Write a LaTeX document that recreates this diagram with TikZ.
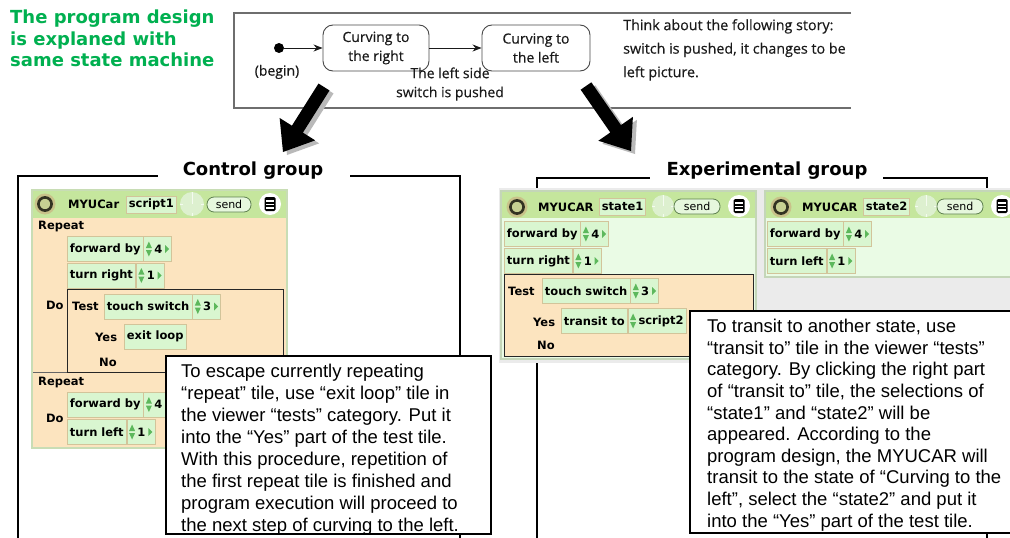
\documentclass[tikz,border=0pt]{standalone}
\usepackage{fontspec}
\usetikzlibrary{calc,arrows.meta}
\newfontfamily\dejavu{DejaVu Sans}
\newfontfamily\osans{Open Sans}[FakeBold=0.35]
\newfontfamily\arialf{Liberation Sans}
\definecolor{titlegreen}{HTML}{00B050}
\definecolor{hdrgreen}{HTML}{C5E69D}
\definecolor{peach}{HTML}{FCE4BF}
\definecolor{winborder}{HTML}{C8DDB5}
\definecolor{winbordertwo}{HTML}{C4D6B8}
\definecolor{tilefill}{HTML}{D9F6D0}
\definecolor{tileborder}{HTML}{D2C49A}
\definecolor{lightbody}{HTML}{EAFBE5}
\definecolor{panelgray}{HTML}{EBEBEB}
\definecolor{arrowgreen}{HTML}{5DB85C}
\definecolor{clockfill}{HTML}{DDF0CF}
\definecolor{clockline}{HTML}{F4FBEF}
\definecolor{olivehalo}{HTML}{C9C28A}
\definecolor{olivedark}{HTML}{333322}
\definecolor{smgray}{HTML}{6E6E6E}
\definecolor{smtext}{HTML}{1A1A1A}
\definecolor{pillfill}{HTML}{E6F7DD}
\definecolor{pilldark}{HTML}{5E8050}
\newcommand\tilefont{\dejavu\bfseries\fontsize{11.5}{13}\selectfont}
\newcommand\updownarr[1]{%
  \fill[arrowgreen] ($(#1.west)+(2.5,-1)$) -- ++(6,0) -- ++(-3,-6.5) -- cycle;
  \fill[arrowgreen] ($(#1.west)+(2.5,1)$) -- ++(6,0) -- ++(-3,6.5) -- cycle;}
\newcommand\numtile[3]{%
  \node[tile] (#1) at (#2) {\hspace*{8pt}#3\hspace*{7pt}};
  \updownarr{#1}
  \fill[arrowgreen] ($(#1.east)+(-7,-4)$) -- ++(0,8) -- ++(4,-4) -- cycle;}
\newcommand\clockicon[2]{%
  \fill[clockfill] (#1) circle (#2);
  \draw[clockline, line width=1] (#1) -- ++(0,-#2);
  \draw[clockline, line width=0.6] ($(#1)+(0,-#2)$) -- ++(0,3) ($(#1)+(0,#2)$) -- ++(0,-3)
       ($(#1)+(-#2,0)$) -- ++(3,0) ($(#1)+(#2,0)$) -- ++(-3,0);}
\newcommand\menuicon[1]{%
  \fill[white] (#1) circle (11);
  \fill[black, rounded corners=1.5] ($(#1)+(-5.5,-7)$) rectangle ($(#1)+(5.5,7)$);
  \draw[white, line width=1.1] ($(#1)+(-4,-3)$) -- ++(8,0) ($(#1)+(-4,0.5)$) -- ++(8,0) ($(#1)+(-4,4)$) -- ++(8,0);}
\newcommand\oliveicon[1]{%
  \fill[olivehalo] (#1) circle (10.5);
  \draw[olivedark, line width=2.6, fill=olivehalo!60!hdrgreen] (#1) circle (6.6);}
\newcommand\fatarrow[3]{%
  \coordinate (fatH) at ($(#3)!27pt!(#2)$);
  \fill[#1] ($(#2)!6.5pt!90:(#3)$) -- ($(fatH)!6.5pt!90:(#3)$) -- ($(fatH)!21pt!90:(#3)$) -- (#3)
     -- ($(fatH)!21pt!-90:(#3)$) -- ($(fatH)!6.5pt!-90:(#3)$) -- ($(#2)!6.5pt!-90:(#3)$) -- cycle;}
\tikzset{
  title/.style={font=\dejavu\bfseries\fontsize{18}{21.5}\selectfont, text=titlegreen, align=left, inner sep=0},
  heading/.style={font=\dejavu\bfseries\fontsize{18}{21}\selectfont, inner sep=0},
  smbox/.style={draw=smgray, line width=1.8},
  state/.style={draw=smtext!80, line width=0.9, rounded corners=10, align=center,
     font=\osans\fontsize{14}{19}\selectfont, text=smtext, inner sep=0},
  smlabel/.style={font=\osans\fontsize{14}{19}\selectfont, text=smtext, align=center, inner sep=0},
  smarrow/.style={draw=smtext, line width=1, -{Stealth[length=9pt,width=7pt]}},
  bracket/.style={draw=black, line width=1.6},
  tile/.style={draw=tileborder, fill=tilefill, line width=0.8, inner xsep=2.5, inner ysep=0,
     minimum height=25, font=\tilefont, anchor=west},
  smalltile/.style={tile, minimum height=17},
  lbl/.style={font=\tilefont, anchor=west, inner sep=0},
  sendpill/.style={draw=pilldark, fill=pillfill, line width=0.8, rounded corners=7, minimum width=44,
     minimum height=15, inner sep=0, font=\dejavu\fontsize{11}{13}\selectfont},
  testbox/.style={draw=black!85, line width=0.9},
  tbox/.style={draw=black, line width=1.5, fill=white, inner sep=0, anchor=north west},
  notetext/.style={font=\arialf\fontsize{18.5}{22}\selectfont, align=left, inner sep=0, anchor=north west},
}
\begin{document}
\begin{tikzpicture}[x=1pt,y=-1pt]
\clip (0,0) rectangle (1010,538);
\fill[white] (0,0) rectangle (1010,538);

% title
\node[title, anchor=north west] (title) at (10,10) {The program design\\is explaned with\\same state machine};

% state machine
\draw[smbox] (851,13) -- (234,13) -- (234,108) -- (851,108);
\node[circle, fill=black, inner sep=0, minimum size=10] (init) at (279,48) {};
\node[state, minimum width=106, minimum height=46] (s1) at (376,48) {Curving to\\the right};
\node[state, minimum width=108, minimum height=46] (s2) at (536,48) {Curving to\\the left};
\draw[smarrow] (init) -- (s1);
\draw[smarrow] (s1) -- (s2);
\node[smlabel] (begin) at (277,72) {(begin)};
\node[smlabel] (trans) at (450,84) {The left side\\switch is pushed};
\begin{scope}
\clip (600,15) rectangle (850,106);
\node[smlabel, align=left, anchor=north west, font=\osans\fontsize{14.3}{23.5}\selectfont] (story) at (623,19)
  {Think about the following story: \\switch is pushed, it changes to be\\left picture.};
\end{scope}

% big arrows
\coordinate (la1) at (324,87); \coordinate (la2) at (283,152);
\coordinate (las1) at (328,90); \coordinate (las2) at (287,155);
\coordinate (ra1) at (586,86); \coordinate (ra2) at (631,151);
\coordinate (ras1) at (590,89); \coordinate (ras2) at (635,154);
\fatarrow{gray!55}{las1}{las2}
\fatarrow{black}{la1}{la2}
\fatarrow{gray!55}{ras1}{ras2}
\fatarrow{black}{ra1}{ra2}

% headings and brackets
\node[heading] (hc) at (253,171) {Control group};
\node[heading] (he) at (767,171) {Experimental group};
\draw[bracket] (18,538) -- (18,176) -- (158,176);
\draw[bracket] (350,176) -- (460,176) -- (460,538);
\draw[bracket] (537,538) -- (537,178) -- (650,178);
\draw[bracket] (883,178) -- (987,178) -- (987,538);

% ---------- left window ----------
\fill[winborder] (31,189) rectangle (288,449);
\fill[peach] (33,218) rectangle (286,447);
\fill[hdrgreen] (33,191) rectangle (286,218);
\oliveicon{45,204}
\node[lbl] (myu1) at (68,204) {MYUCar};
\node[smalltile] (sc1) at (126,204.5) {script1};
\clockicon{192,204}{12}
\node[sendpill] (send1) at (229,204.5) {send};
\menuicon{270,204}
\node[lbl] (rep1) at (38,227) {Repeat};
\node[tile] (fw1) at (67,249) {forward by};
\numtile{fn1}{fw1.east}{4}
\node[tile] (tr1) at (67,275.5) {turn right};
\numtile{tn1}{tr1.east}{1}
\draw[testbox] (67,289) rectangle (283,372);
\node[lbl] (do1) at (46,305) {Do};
\node[lbl] (test1) at (72,306.5) {Test};
\node[tile] (ts1) at (104,306.5) {touch switch};
\numtile{tsn1}{ts1.east}{3}
\node[lbl] (yes1) at (95,337) {Yes};
\node[tile] (ex1) at (124,336.5) {exit loop};
\node[lbl] (no1) at (99,362) {No};
\draw[draw=black!60, line width=0.7] (33,372) -- (67,372);
\node[lbl] (rep2) at (38,383) {Repeat};
\node[tile] (fw2) at (67,404.5) {forward by};
\numtile{fn2}{fw2.east}{4}
\node[lbl] (do2) at (46,418) {Do};
\node[tile] (tl2) at (67,432) {turn left};
\numtile{tn2}{tl2.east}{1}

% ---------- right panel ----------
\fill[panelgray] (499,188) rectangle (1010,363);
% state1 window
\fill[winbordertwo] (500,190) rectangle (757,360);
\fill[lightbody] (502,218) rectangle (755,358);
\fill[hdrgreen] (502,192) rectangle (755,218);
\oliveicon{517,207}
\node[lbl] (myu2) at (538,207) {MYUCAR};
\node[smalltile] (st1) at (599,206.5) {state1};
\clockicon{663,206}{11}
\node[sendpill, minimum width=46] (send2) at (697,206.5) {send};
\menuicon{739,206}
\node[tile] (fw3) at (504,234) {forward by};
\numtile{fn3}{fw3.east}{4}
\node[tile] (tr3) at (504,261) {turn right};
\numtile{tn3}{tr3.east}{1}
\filldraw[testbox, fill=peach] (504,274) rectangle (753,356);
\node[lbl] (test3) at (508,291) {Test};
\node[tile] (ts3) at (542,291) {touch switch};
\numtile{tsn3}{ts3.east}{3}
\node[lbl] (yes3) at (533,322) {Yes};
\node[tile] (tt3) at (561,321) {transit to};
\node[tile] (scr3) at (tt3.east) {\hspace*{8pt}script2};
\updownarr{scr3}
\node[lbl] (no3) at (537,345) {No};
% state2 window
\fill[winbordertwo] (764,190) rectangle (1012,278);
\fill[lightbody] (766,218) rectangle (1012,276);
\fill[hdrgreen] (766,192) rectangle (1012,218);
\oliveicon{781,207}
\node[lbl] (myu4) at (802,207) {MYUCAR};
\node[smalltile] (st4) at (863,206.5) {state2};
\clockicon{926,206}{11}
\node[sendpill, minimum width=46] (send4) at (960,206.5) {send};
\menuicon{1002,206}
\node[tile] (fw4) at (767,234) {forward by};
\numtile{fn4}{fw4.east}{4}
\node[tile] (tl4) at (767,261) {turn left};
\numtile{tn4}{tl4.east}{1}

% ---------- notes ----------
\node[tbox, minimum width=325, minimum height=178] (note1) at (165,355) {};
\node[notetext] (note1t) at ($(note1.north west)+(16,9)$) {To escape currently repeating\\
“repeat” tile, use “exit loop” tile in\\
the viewer “tests” category. Put it\\
into the “Yes” part of the test tile.\\
With this procedure, repetition of\\
the first repeat tile is finished and\\
program execution will proceed to\\
the next step of curving to the left.};
\node[tbox, minimum width=325, minimum height=222] (note2) at (689,310) {};
\node[notetext, font=\arialf\fontsize{18.5}{21.6}\selectfont] (note2t) at ($(note2.north west)+(18,9)$) {To transit to another state, use\\
“transit to” tile in the viewer “tests”\\
category. By clicking the right part\\
of “transit to” tile, the selections of\\
“state1” and “state2” will be\\
appeared. According to the\\
program design, the MYUCAR will\\
transit to the state of “Curving to the\\
left”, select the “state2” and put it\\
into the “Yes” part of the test tile.};
\end{tikzpicture}
\end{document}
